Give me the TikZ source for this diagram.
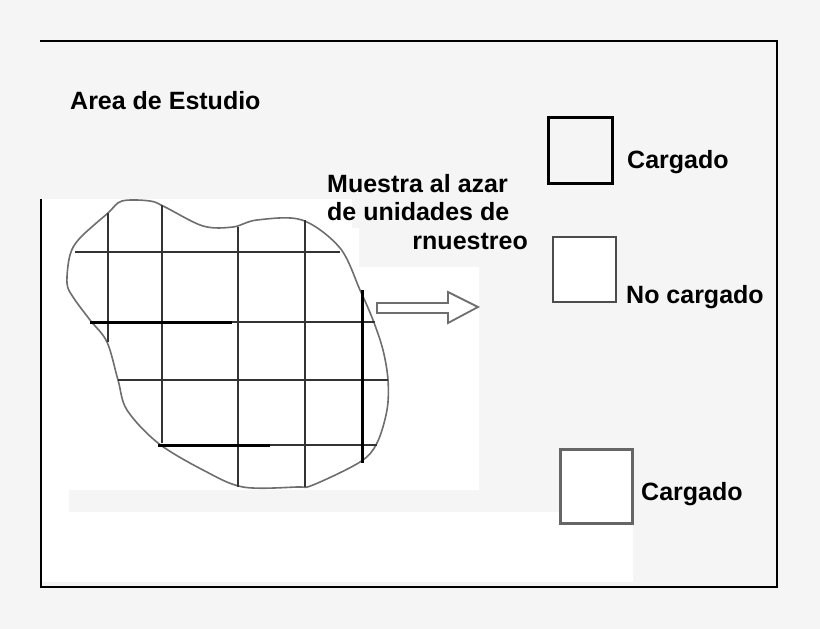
\documentclass[tikz,border=0pt]{standalone}
\usepackage{fontspec}
\setmainfont{Liberation Sans}
\usepackage{tikz}
\usetikzlibrary{positioning}
\definecolor{paper}{HTML}{F5F5F5}
\definecolor{blobline}{HTML}{6E6E6E}
\definecolor{gridline}{HTML}{333333}
\tikzstyle{sketch}=[
  x=1pt,y=-1pt,font=\fontsize{25}{29}\selectfont\bfseries
]
\tikzstyle{frameline}=[
  line width=2pt,black
]
\tikzstyle{blob}=[
  line width=1.6pt,blobline,fill=white
]
\tikzstyle{gridedge}=[
  line width=1.8pt,gridline
]
\tikzstyle{loadededge}=[
  line width=3pt,black
]
\tikzstyle{label}=[
  inner sep=0pt,text=black
]
\tikzstyle{keybox}=[
  draw,inner sep=0pt
]
\begin{document}
\begin{tikzpicture}[sketch]
  \fill[paper] (0,0) rectangle (820,629);
  \useasboundingbox (0,0) rectangle (820,629);
  \fill[white] (41,199) -- (352,199) -- (352,228) -- (359,228) -- (359,267)
    -- (479,267) -- (479,490) -- (41,490) -- cycle;
  \fill[white] (41,490) rectangle (69,512);
  \fill[white] (41,512) rectangle (633,582);
  \draw [frameline] (40,41) -- (777,41) -- (777,587) -- (41,587) -- (41,199);
  \draw [blob] plot [smooth cycle, tension=0.55] coordinates {
    (122,201) (150,201) (165,207) (203,226) (233,227) (257,220) (302,220)
    (340,248) (360,290) (373,320) (383,350) (388,380) (387,410) (377,443)
    (360,462) (313,485) (297,487) (243,487) (203,470) (158,443) (127,410)
    (118,380) (107,342) (90,320) (73,297) (67,283) (70,255) (80,238) (108,213)};
  \foreach \gx/\ya/\yb in {108/213/342, 162/205/443, 238/227/487, 305/220/487}
    \draw [gridedge] (\gx,\ya) -- (\gx,\yb);
  \foreach \gy/\xa/\xb in {252/75/340, 322/90/375, 380/118/388, 445/158/377}
    \draw [gridedge] (\xa,\gy) -- (\xb,\gy);
  \draw [loadededge] (362,290) -- (362,463);
  \draw [loadededge] (90,322) -- (232,322);
  \draw [loadededge] (158,445) -- (270,445);
  \draw [line width=1.8pt,blobline,fill=white] (377,303) -- (448,303) -- (448,292)
    -- (478,307) -- (448,323) -- (448,313) -- (377,313) -- cycle;
  \node (area) [label,anchor=base west] at (70,109) {Area de Estudio};
  \node (muestra) [label,anchor=base west] at (327,192) {Muestra al azar};
  \node (unidades) [label,anchor=base west] at (327,220) {de unidades de};
  \node (nuestreo) [label,anchor=base east] at (528,249) {rnuestreo};
  \node (box1) [keybox,line width=3pt,minimum width=64pt,minimum height=66pt] at (580,150) {};
  \node (box2) [keybox,line width=2pt,draw=black!70,fill=white,minimum width=63pt,minimum height=65pt] at (584.5,269.5) {};
  \node (box3) [keybox,line width=3pt,draw=black!60,fill=white,minimum width=72pt,minimum height=74pt] at (596,486) {};
  \node (cargado1) [label,anchor=base west] at (627,168) {Cargado};
  \node (nocargado) [label,anchor=base west] at (626,303) {No cargado};
  \node (cargado2) [label,anchor=base west] at (641,500) {Cargado};
\end{tikzpicture}
\end{document}
